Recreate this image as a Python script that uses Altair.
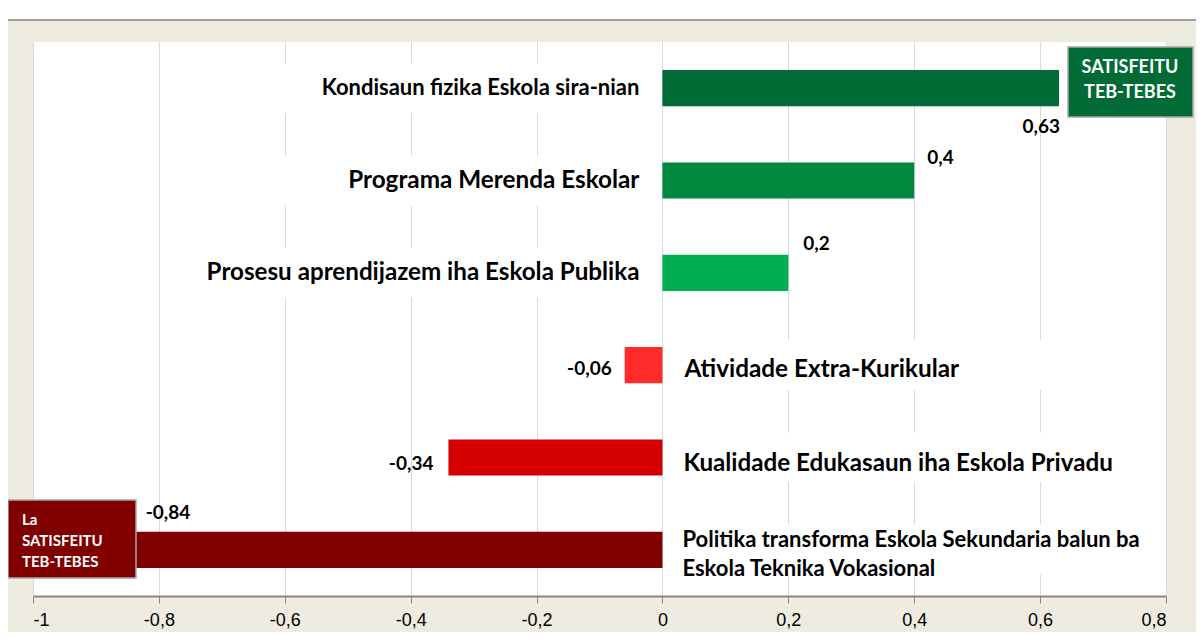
import altair as alt
import pandas as pd

# ---- data ----
categories = [
    "Kondisaun fizika Eskola sira-nian",
    "Programa Merenda Eskolar",
    "Prosesu aprendijazem iha Eskola Publika",
    "Atividade Extra-Kurikular",
    "Kualidade Edukasaun iha Eskola Privadu",
    "Politika transforma Eskola Sekundaria balun ba\nEskola Teknika Vokasional",
]
values = [0.63, 0.4, 0.2, -0.06, -0.34, -0.84]
value_labels = ["0,63", "0,4", "0,2", "-0,06", "-0,34", "-0,84"]
x_ticks = [-1, -0.8, -0.6, -0.4, -0.2, 0, 0.2, 0.4, 0.6, 0.8]
legend_positive = "SATISFEITU\nTEB-TEBES"
legend_negative = "La\nSATISFEITU\nTEB-TEBES"

# ---- styles ----
bar_colors = ["#006B35", "#00883E", "#00B050", "#FF2A2A", "#D40000", "#800000"]
FONT = "Lato"
BG = "#EEEBE0"

df = pd.DataFrame({
    "category": categories,
    "value": values,
    "value_label": value_labels,
    "idx": list(range(len(categories))),
})

W, H = 1133, 554

y_enc = alt.Y("category:N", sort=categories, axis=None,
              scale=alt.Scale(paddingInner=0.608, paddingOuter=0.304))
x_scale = alt.Scale(domain=[-1, 0.8], nice=False, zero=False)
x_axis = alt.Axis(
    values=x_ticks, title=None, grid=True,
    labelExpr="replace(replace(format(datum.value, '~g'), '.', ','), '\u2212', '-')",
)

base = alt.Chart(df)

# white boxes behind category labels (hide gridlines there)
boxes = base.transform_calculate(
    box_start="datum.value > 0 ? -0.795 : 0.003",
    box_end="datum.value > 0 ? -0.003 : 0.76",
).mark_bar(color="white", size=50).encode(
    x=alt.X("box_start:Q", scale=x_scale, axis=x_axis),
    x2="box_end:Q",
    y=y_enc,
)

bars = base.mark_bar().encode(
    x=alt.X("value:Q", scale=x_scale, axis=x_axis),
    x2=alt.datum(0),
    y=y_enc,
    color=alt.Color("category:N", scale=alt.Scale(domain=categories, range=bar_colors), legend=None),
)


def cat_label(i, align, dx, dy, size):
    return base.transform_filter(alt.datum.idx == i).mark_text(
        align=align, baseline="middle", dx=dx, dy=dy, font=FONT, fontWeight="bold",
        fontSize=size, color="black", lineBreak="\n", lineHeight=29
    ).encode(x=alt.datum(0), y=y_enc, text="category:N")


cats = [
    cat_label(0, "right", -23, 0, 22),
    cat_label(1, "right", -23, 0, 24.3),
    cat_label(2, "right", -23, 0, 24.2),
    cat_label(3, "left", 22, 5, 24.3),
    cat_label(4, "left", 21, 6, 24.2),
    cat_label(5, "left", 20, -10, 22),
]


def value_label(i, align, dx, dy):
    return base.transform_filter(alt.datum.idx == i).mark_text(
        align=align, baseline="middle", dx=dx, dy=dy, font=FONT,
        fontWeight="bold", fontSize=19, color="black"
    ).encode(x="value:Q", y=y_enc, text="value_label:N")


vl = [
    value_label(0, "right", 1, 39),
    value_label(1, "left", 13, -23),
    value_label(2, "left", 15, -29),
    value_label(5, "left", 12, -37),
    value_label(3, "right", -13, 4),
    value_label(4, "right", -15, 6),
]

# decorations: top strip, legend boxes
one = pd.DataFrame({"pos": [legend_positive], "neg": [legend_negative]})
deco = alt.Chart(one)
top_strip = deco.mark_rect(color="white").encode(
    x=alt.value(-25), x2=alt.value(1163), y=alt.value(-34), y2=alt.value(-23))
top_line = deco.mark_rule(color="#9E9E9E", strokeWidth=2).encode(
    x=alt.value(-25), x2=alt.value(1163), y=alt.value(-22))

pos_box = deco.mark_rect(color="#006B35", stroke="#A6A6A6", strokeWidth=1.5).encode(
    x=alt.value(1035), x2=alt.value(1160), y=alt.value(5), y2=alt.value(75))
pos_text = deco.mark_text(
    align="center", baseline="middle", lineBreak="\n", lineHeight=25,
    font=FONT, fontWeight="bold", fontSize=18, color="white"
).encode(x=alt.value(1097), y=alt.value(26), text="pos:N")

neg_box = deco.mark_rect(color="#800000", stroke="#A6A6A6", strokeWidth=1.5).encode(
    x=alt.value(-25), x2=alt.value(103), y=alt.value(458), y2=alt.value(536))
neg_text = deco.mark_text(
    align="left", baseline="middle", lineBreak="\n", lineHeight=21,
    font=FONT, fontWeight="bold", fontSize=15, color="white"
).encode(x=alt.value(-11), y=alt.value(478), text="neg:N")

chart = alt.layer(
    boxes, bars, *cats, *vl,
    top_strip, top_line, pos_box, pos_text, neg_box, neg_text,
).properties(
    width=W, height=H,
    autosize=alt.AutoSizeParams(type="none"),
    padding={"left": 25, "top": 34, "right": 30, "bottom": 36},
    background=BG,
).configure_view(
    fill="white", stroke=None
).configure_axis(
    gridColor="#D9D9D9", gridWidth=1,
    domainColor="#868686", domainWidth=2,
    tickColor="#868686", tickSize=7, tickWidth=1,
    labelFont="Liberation Sans", labelFontSize=18, labelColor="black",
    labelPadding=8,
)

chart.save("out.html", embed_options={"renderer": "svg", "actions": False})
